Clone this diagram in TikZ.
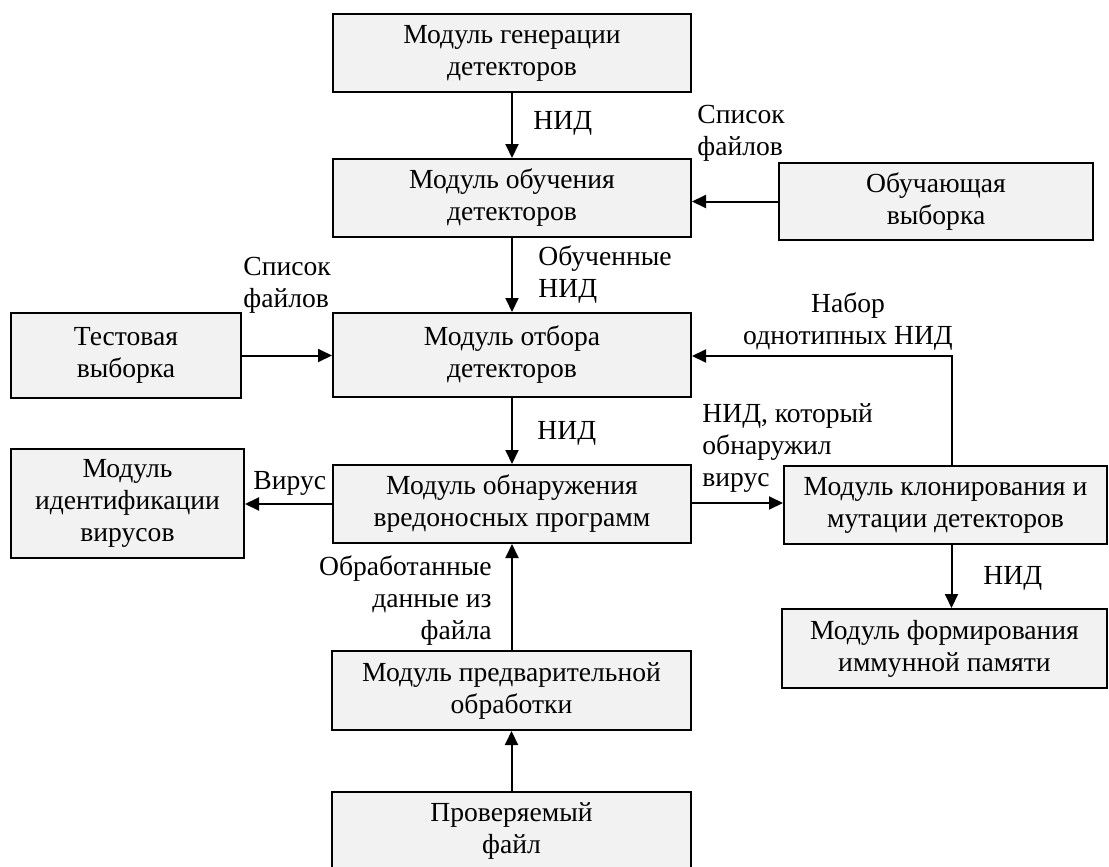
\documentclass[tikz,border=0pt]{standalone}
\usepackage{fontspec}
\setmainfont{Liberation Serif}
\usetikzlibrary{arrows.meta}
\definecolor{boxfill}{RGB}{242,242,242}
\tikzset{
  box/.style={draw=black, line width=1pt, fill=boxfill, inner sep=0pt, align=center,
              font=\rmfamily\fontsize{13.8}{16}\selectfont},
  lbl/.style={inner sep=0pt, font=\rmfamily\fontsize{13.8}{16}\selectfont},
  arr/.style={line width=1pt, -{Triangle[length=7pt,width=6.5pt]}}
}
\begin{document}
\begin{tikzpicture}[x=0.5pt,y=-0.5pt]
\useasboundingbox (0,0) rectangle (1109,867);
\fill[white] (0,0) rectangle (1109,867);
\clip (0,0) rectangle (1109,867);
% boxes
\node[box, minimum width=179pt, minimum height=39pt] (gen) at (512,53) {Модуль генерации\\детекторов};
\node[box, minimum width=179pt, minimum height=39pt] (learn) at (512,198) {Модуль обучения\\детекторов};
\node[box, minimum width=157pt, minimum height=38.5pt] (train) at (936,201.5) {Обучающая\\выборка};
\node[box, minimum width=115pt, minimum height=42.5pt] (test) at (126,355.5) {Тестовая\\выборка};
\node[box, minimum width=179pt, minimum height=42pt] (select) at (512,355) {Модуль отбора\\детекторов};
\node[box, minimum width=116.5pt, minimum height=54.5pt] (ident) at (127.5,503.5) {Модуль\\идентификации\\вирусов};
\node[box, minimum width=179pt, minimum height=39pt] (detect) at (512,504) {Модуль обнаружения\\вредоносных программ};
\node[box, minimum width=161.5pt, minimum height=39pt] (clone) at (945.5,505) {Модуль клонирования и\\мутации детекторов};
\node[box, minimum width=162.5pt, minimum height=39.5pt] (memory) at (944.5,648.5) {Модуль формирования\\иммунной памяти};
\node[box, minimum width=179.5pt, minimum height=39.5pt] (preproc) at (511.5,690.5) {Модуль предварительной\\обработки};
\node[box, minimum width=179.5pt, minimum height=39pt] (checked) at (511.5,831) {Проверяемый\\файл};
% connectors
\draw[arr] (gen.south) -- (learn.north);
\draw[arr] (train.west) -- (train.west -| learn.east);
\draw[arr] (learn.south) -- (select.north);
\draw[arr] (test.east) -- (test.east -| select.west);
\draw[arr] ([xshift=3pt]clone.north) |- ([yshift=-0.5pt]select.east);
\draw[arr] (select.south) -- (detect.north);
\draw[arr] (detect.west) -- (detect.west -| ident.east);
\draw[arr] ([yshift=0.5pt]detect.east) -- ([yshift=0.5pt]detect.east -| clone.west);
\draw[arr] ([xshift=3pt]clone.south) -- ([xshift=3pt]clone.south |- memory.north);
\draw[arr] (preproc.north -| detect.south) -- (detect.south);
\draw[arr] (checked.north) -- (preproc.south);
% labels
\node[lbl, anchor=west] (l1) at (533,123) {НИД};
\node[lbl, anchor=west, align=left] (l2) at (697,133) {Список\\файлов};
\node[lbl, anchor=west, align=left] (l3) at (538,275) {Обученные\\НИД};
\node[lbl, anchor=west, align=left] (l4) at (243,285) {Список\\файлов};
\node[lbl, align=center] (l5) at (848,322) {Набор\\однотипных НИД};
\node[lbl, anchor=west] (l6) at (537,433) {НИД};
\node[lbl, anchor=west, align=left] (l7) at (702,448) {НИД, который\\обнаружил\\вирус};
\node[lbl, anchor=west] (l8) at (253,483) {Вирус};
\node[lbl, anchor=west] (l9) at (983,578) {НИД};
\node[lbl, anchor=east, align=right] (l10) at (492,601) {Обработанные\\данные из\\файла};
\end{tikzpicture}
\end{document}
